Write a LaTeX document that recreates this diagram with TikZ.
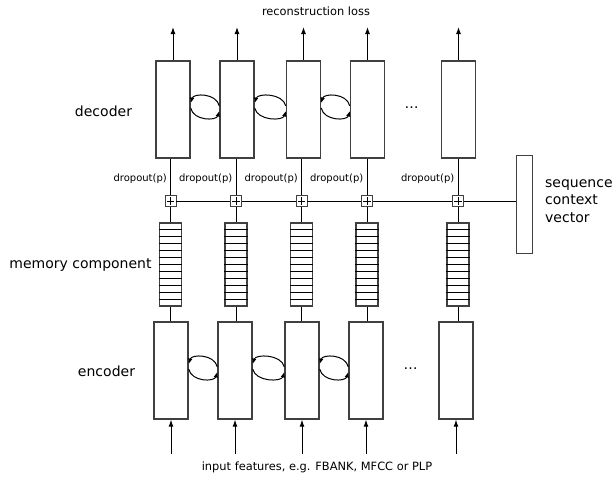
\documentclass[tikz,border=0pt]{standalone}
\usepackage{fontspec}
\setmainfont{DejaVu Sans}
\usetikzlibrary{arrows.meta,calc}
\definecolor{boxgray}{HTML}{404040}
\begin{document}
\begin{tikzpicture}[x=1pt,y=-1pt,
  box/.style={draw=boxgray, line width=1.3pt, minimum width=34pt, minimum height=97pt, inner sep=0pt},
  plusbox/.style={draw=boxgray, line width=0.9pt, fill=white, minimum width=11pt, minimum height=11pt, inner sep=0pt},
  mem/.style={draw=boxgray, line width=1.1pt, minimum width=22pt, minimum height=83pt, inner sep=0pt},
  ctxbox/.style={draw=boxgray, line width=1pt, minimum width=16pt, minimum height=98pt, inner sep=0pt},
  conn/.style={line width=0.8pt},
  arr/.style={-{Latex[length=7pt,width=5pt]}, line width=1pt},
  larr/.style={-{Latex[length=5.5pt,width=4.5pt]}, line width=1pt},
  drop/.style={font=\fontsize{10}{12}\selectfont, inner sep=0pt},
  side/.style={font=\fontsize{14}{16}\selectfont, inner sep=0pt},
  small/.style={font=\fontsize{11.4}{13}\selectfont, inner sep=0pt}
]
\useasboundingbox (0,0) rectangle (614,477);

\foreach \i/\dx/\vx/\ex in {1/173/170.5/171, 2/237/236/235, 3/303.5/301.5/302, 4/367.5/367/366, 5/458.5/458/456}{
  \node[box] (d\i) at (\dx,109.5) {};
  \node[box] (e\i) at (\ex,370.5) {};
  \node[plusbox] (p\i) at (\vx,201) {};
  \node[mem] (m\i) at (\vx,264.5) {};
  \coordinate (o\i) at (\dx,27);
  \coordinate (in\i) at (\ex,454);
  \draw[arr] (d\i.north) -- (o\i);
  \draw[arr] (in\i) -- (e\i.south);
  \draw[conn] (p\i.north) -- (p\i.north |- d\i.south);
  \draw[conn] (p\i.south) -- (m\i.north);
  \draw[conn] (m\i.south) -- (m\i.south |- e\i.north);
  \draw[line width=0.8pt] ($(p\i.north)+(0,2.2)$) -- ($(p\i.south)+(0,-2.2)$);
  \draw[line width=0.8pt] ($(p\i.west)+(2.2,0)$) -- ($(p\i.east)+(-2.2,0)$);
  \foreach \k in {1,...,11}{
    \draw[line width=0.5pt] ($(m\i.north west)!\k/12!(m\i.south west)$) -- ($(m\i.north east)!\k/12!(m\i.south east)$);
  }
  \node[drop, anchor=base east] (dl\i) at (\vx-3.5,181) {dropout(p)};
}

% recurrent loops
\foreach \a/\b in {d1/d2, d2/d3, d3/d4, e1/e2, e2/e3, e3/e4}{
  \coordinate (L) at ($(\a.east)+(0,-2.5)$);
  \coordinate (R) at ($(\b.west)+(0,-2.5)$);
  \draw[larr] ($(R)+(0,-1)$) .. controls ($(R)+(-3,-14)$) and ($(L)+(3,-14)$) .. ($(L)+(0,-4)$);
  \draw[larr] ($(L)+(0,1)$) .. controls ($(L)+(3,14)$) and ($(R)+(-3,14)$) .. ($(R)+(0,4)$);
}

% context vector
\node[ctxbox] (ctx) at (524,204) {};
\draw[conn] (p1.east) -- (p2.west) (p2.east) -- (p3.west) (p3.east) -- (p4.west) (p4.east) -- (p5.west);
\draw[conn] (p5.east) -- (p5.east -| ctx.west);

\node[side, anchor=base west] (sq1) at (545,187) {sequence};
\node[side, anchor=base west] (sq2) at (545,204.5) {context};
\node[side, anchor=base west] (sq3) at (545,222) {vector};

% side labels
\node[side, anchor=base] (ldec) at (103.5,116) {decoder};
\node[side, anchor=base] (lmem) at (80.5,268) {memory component};
\node[side, anchor=base] (lenc) at (106.5,376) {encoder};

% ellipses
\node[side, anchor=base] (dd) at (411.5,108.5) {…};
\node[side, anchor=base] (de) at (410.5,369) {…};

% top / bottom text
\node[small, anchor=base] (top) at (316,15) {reconstruction loss};
\node[small, anchor=base] (bot) at (317,470.5) {input features, e.g. FBANK, MFCC or PLP};
\end{tikzpicture}
\end{document}
